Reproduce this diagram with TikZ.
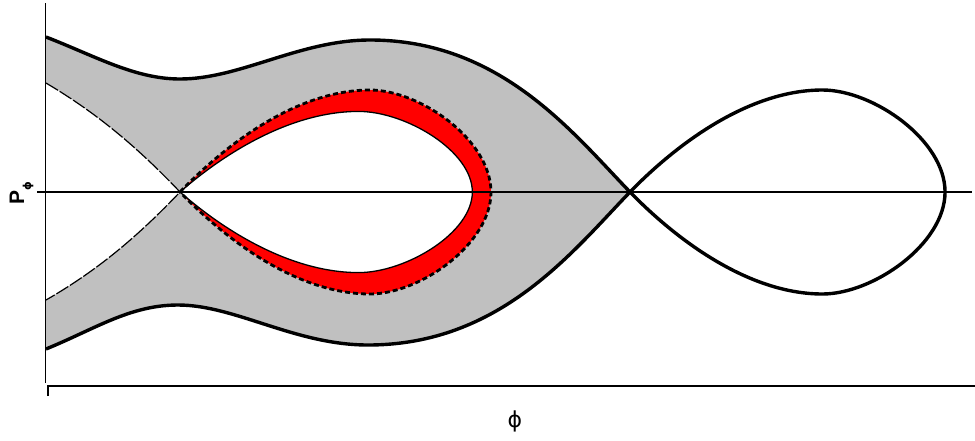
\documentclass[tikz,border=0pt]{standalone}
\usepackage{fontspec}
\setmainfont{Liberation Sans}
\newfontfamily\phifont{DejaVu Sans}
\usetikzlibrary{calc}
\definecolor{band}{RGB}{192,192,192}
\definecolor{hot}{RGB}{255,0,0}
\tikzset{
  orbit/.style={line width=3.4pt,line join=round},
  inner orbit/.style={line width=1.3pt},
  shell dash/.style={line width=2.8pt,dash pattern=on 5pt off 3pt},
  thin dash/.style={line width=1.2pt,dash pattern=on 14pt off 2pt},
  axis line/.style={line width=1.8pt},
}
% closed separatrix lobe, cusp at the origin
\newcommand\droppath{(0,0) .. controls (50,-52) and (120,-102) .. (190,-102)
  .. controls (240,-102) and (311,-52) .. (311,0)
  .. controls (311,52) and (240,102) .. (190,102)
  .. controls (120,102) and (50,52) .. (0,0) -- cycle}
\begin{document}
\begin{tikzpicture}[x=1pt,y=-1pt]
  \useasboundingbox (0,0) rectangle (975,440);
  \coordinate (cusp) at (180,192);
  \coordinate (xpt) at (630,192);
  % grey band
  \fill[band] (46,37) .. controls (95,56) and (135,79) .. (180,79)
    .. controls (240,79) and (300,40) .. (370,40)
    .. controls (500,40) and (572,132) .. (xpt)
    .. controls (572,252) and (500,345) .. (368,345)
    .. controls (295,345) and (235,305) .. (178,305)
    .. controls (130,305) and (95,329) .. (46,349)
    -- (46,300) .. controls (100,269) and (140,234) .. (cusp)
    .. controls (140,150) and (100,115) .. (46,83) -- cycle;
  % red shell
  \fill[hot,shift={(cusp)}] \droppath;
  \fill[white,shift={(cusp)},xscale=0.94,yscale=0.79] \droppath;
  % p = 0
  \draw[line width=1.6pt] (37,192) -- (972,192);
  \draw[line width=2.8pt] (472,192) -- (955,192);
  \draw[inner orbit,shift={(cusp)},xscale=0.94,yscale=0.79] \droppath;
  \draw[shell dash,shift={(cusp)}] \droppath;
  \draw[thin dash] (46,83) .. controls (100,115) and (140,150) .. (cusp)
    .. controls (140,234) and (100,269) .. (46,300);
  % outer curves
  \draw[orbit] (46,37) .. controls (95,56) and (135,79) .. (180,79)
    .. controls (240,79) and (300,40) .. (370,40)
    .. controls (500,40) and (572,132) .. (xpt);
  \draw[orbit] (xpt) .. controls (572,252) and (500,345) .. (368,345)
    .. controls (295,345) and (235,305) .. (178,305)
    .. controls (130,305) and (95,329) .. (46,349);
  \draw[orbit,shift={(xpt)},xscale=1.013] \droppath;
  % axes
  \draw[axis line] (45.5,3) -- (45.5,383);
  \draw[axis line] (48,396) -- (48,386) -- (975,386);
  \node[rotate=90,anchor=base west,inner sep=0,font=\fontsize{21}{21}\selectfont\bfseries] (plabel) at (24,205)
    {P\raisebox{-7pt}{\fontsize{11}{11}\selectfont\phifont\bfseries ϕ}};
  \node[anchor=base,inner sep=0,font=\fontsize{22}{22}\selectfont\phifont] (philabel) at (515,427) {ϕ};
\end{tikzpicture}
\end{document}
